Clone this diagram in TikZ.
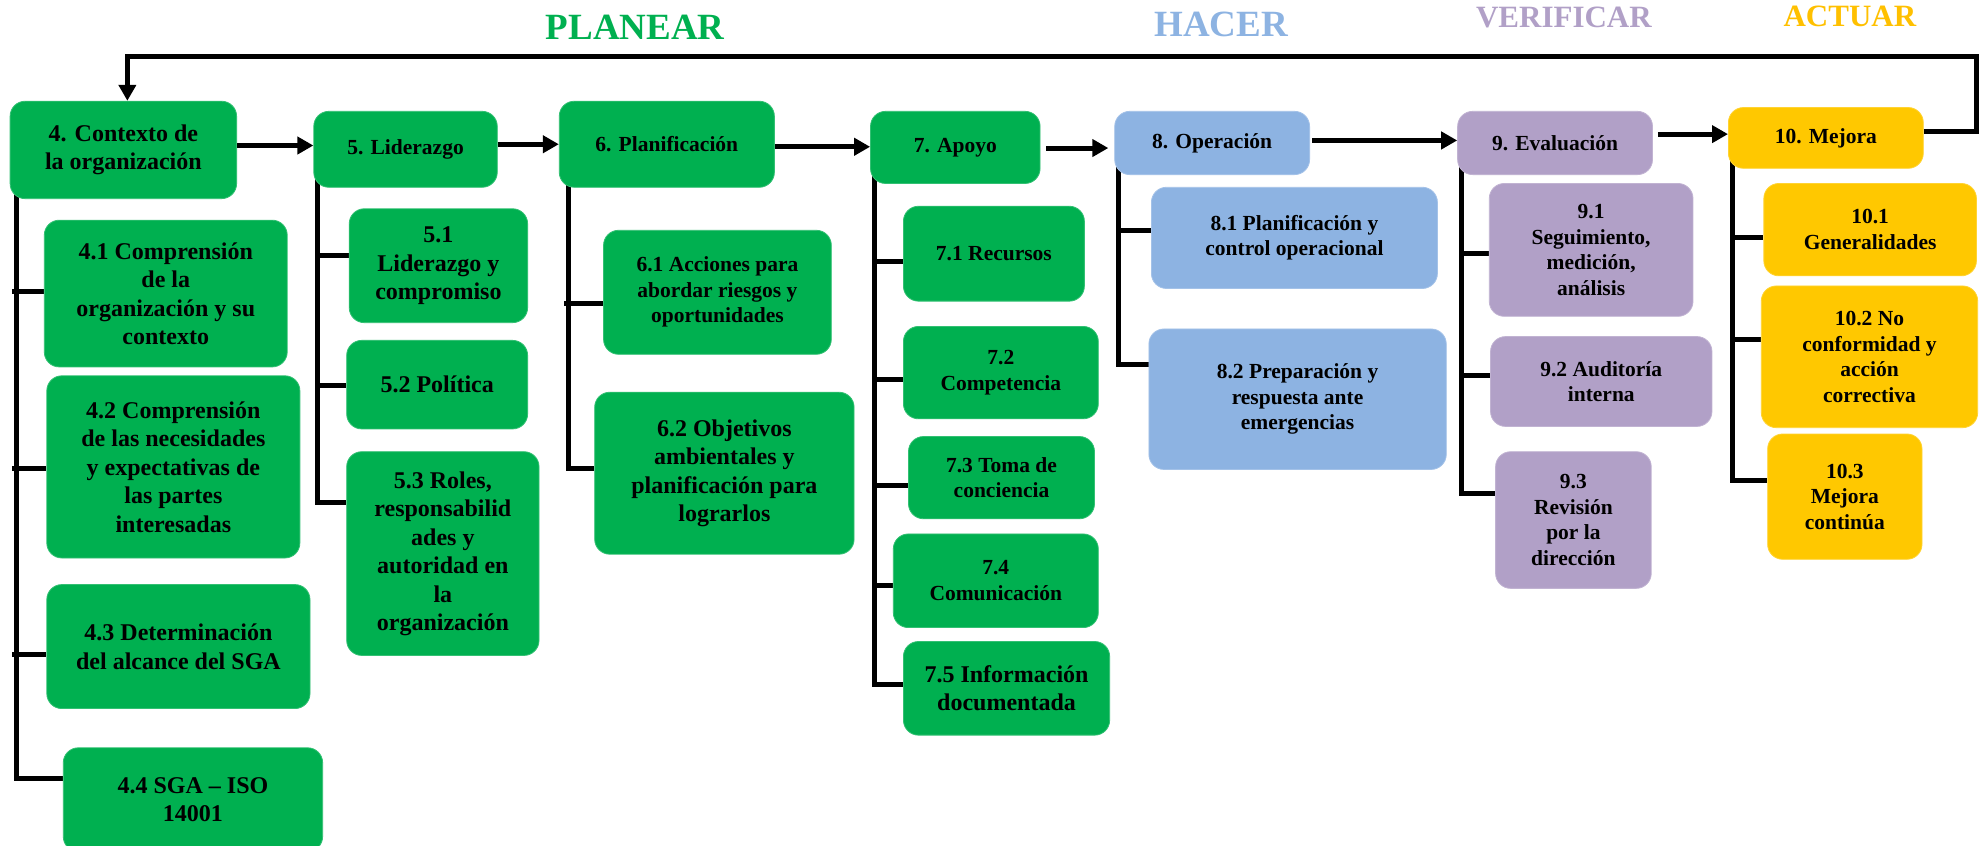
\documentclass[tikz,border=0pt]{standalone}
\usepackage{fontspec}
\setmainfont{Liberation Serif}
\usetikzlibrary{arrows.meta,backgrounds}
\definecolor{pgreen}{HTML}{00B050}
\definecolor{pblue}{HTML}{8DB3E2}
\definecolor{ppurple}{HTML}{B1A0C7}
\definecolor{pgold}{HTML}{FFC800}
\definecolor{tgold}{HTML}{FFC000}

% box placed by its corner coordinates: style, name, x1, y1, x2, y2, text
\newcommand\procbox[7]{%
  \pgfmathsetmacro\bxw{(#5-#3)*1.2653}%
  \pgfmathsetmacro\bxh{(#6-#4)*1.2653}%
  \node[#1, minimum width=\bxw pt, minimum height=\bxh pt] (#2) at ({(#3+#5)/2},{(#4+#6)/2}) {#7};%
}

\begin{document}
\begin{tikzpicture}[x=1.2653pt,y=-1.2653pt,
  box/.style={rounded corners=15pt, align=center, inner sep=2pt, line width=0.8pt,
    font=\bfseries\fontsize{24}{28.5}\selectfont},
  sm/.style={font=\bfseries\fontsize{21.5}{25.5}\selectfont},
  gbox/.style={box, fill=pgreen, draw=pgreen!80!white},
  bbox/.style={box, fill=pblue, draw=pblue!80!white},
  vbox/.style={box, fill=ppurple, draw=ppurple!80!white},
  ybox/.style={box, fill=pgold, draw=pgold!80!white},
  conn/.style={line width=5pt, line cap=butt, line join=miter},
  arr/.style={conn, -{Triangle[length=16pt,width=17pt]}},
  phase/.style={font=\bfseries\fontsize{37}{40}\selectfont},
  phasesm/.style={font=\bfseries\fontsize{31}{34}\selectfont}]
\useasboundingbox (0,0) rectangle (1568,668.6);

% phase headings
\node[phase, text=pgreen]    (hPlan) at (502,21.7) {PLANEAR};
\node[phase, text=pblue]     (hDo)   at (965,19.4) {HACER};
\node[phasesm, text=ppurple] (hChk)  at (1236,14) {VERIFICAR};
\node[phasesm, text=tgold]   (hAct)  at (1462,13) {ACTUAR};

% main clauses
\procbox{gbox}{n4}{8}{80}{187}{157}{4. Contexto de\\la organización}
\procbox{gbox,sm}{n5}{248}{88}{393}{148}{5. Liderazgo}
\procbox{gbox,sm}{n6}{442}{80}{612}{148}{6. Planificación}
\procbox{gbox,sm}{n7}{688}{88}{822}{145}{7. Apoyo}
\procbox{bbox,sm}{n8}{881}{88}{1035}{138}{8. Operación}
\procbox{vbox,sm}{n9}{1152}{88}{1306}{138}{9. Evaluación}
\procbox{ybox,sm}{n10}{1366}{85}{1520}{133}{10. Mejora}

% sub-clauses
\procbox{gbox}{n41}{35}{174}{227}{290}{4.1 Comprensión\\de la\\organización y su\\contexto}
\procbox{gbox}{n42}{37}{297}{237}{441}{4.2 Comprensión\\de las necesidades\\y expectativas de\\las partes\\interesadas}
\procbox{gbox}{n43}{37}{462}{245}{560}{4.3 Determinación\\del alcance del SGA}
\procbox{gbox}{n44}{50}{591}{255}{673}{4.4 SGA – ISO\\14001}

\procbox{gbox}{n51}{276}{165}{417}{255}{5.1\\Liderazgo y\\compromiso}
\procbox{gbox}{n52}{274}{269}{417}{339}{5.2 Política}
\procbox{gbox}{n53}{274}{357}{426}{518}{5.3 Roles,\\responsabilid\\ades y\\autoridad en\\la\\organización}

\procbox{gbox,sm}{n61}{477}{182}{657}{280}{6.1 Acciones para\\abordar riesgos y\\oportunidades}
\procbox{gbox}{n62}{470}{310}{675}{438}{6.2 Objetivos\\ambientales y\\planificación para\\lograrlos}

\procbox{gbox,sm}{n71}{714}{163}{857}{238}{7.1 Recursos}
\procbox{gbox,sm}{n72}{714}{258}{868}{331}{7.2\\Competencia}
\procbox{gbox,sm}{n73}{718}{345}{865}{410}{7.3 Toma de\\conciencia}
\procbox{gbox,sm}{n74}{706}{422}{868}{496}{7.4\\Comunicación}
\procbox{gbox}{n75}{714}{507}{877}{581}{7.5 Información\\documentada}

\procbox{bbox,sm}{n81}{910}{148}{1136}{228}{8.1 Planificación y\\control operacional}
\procbox{bbox,sm}{n82}{908}{260}{1143}{371}{8.2 Preparación y\\respuesta ante\\emergencias}

\procbox{vbox,sm}{n91}{1177}{145}{1338}{250}{9.1\\Seguimiento,\\medición,\\análisis}
\procbox{vbox,sm}{n92}{1178}{266}{1353}{337}{9.2 Auditoría\\interna}
\procbox{vbox,sm}{n93}{1182}{357}{1305}{465}{9.3\\Revisión\\por la\\dirección}

\procbox{ybox,sm}{n101}{1394}{145}{1562}{218}{10.1\\Generalidades}
\procbox{ybox,sm}{n102}{1392}{226}{1563}{338}{10.2 No\\conformidad y\\acción\\correctiva}
\procbox{ybox,sm}{n103}{1397}{343}{1519}{442}{10.3\\Mejora\\continúa}

% flow between the main clauses
\draw[arr] (n4.east |- 0,115) -- (n5.west |- 0,115);
\draw[arr] (n5.east |- 0,114) -- (n6.west |- 0,114);
\draw[arr] (n6.east |- 0,116) -- (n7.west |- 0,116);
\draw[arr, shorten <=6pt, shorten >=6pt] (n7.east |- 0,117) -- (n8.west |- 0,117);
\draw[arr, shorten <=2pt] (n8.east |- 0,111) -- (n9.west |- 0,111);
\draw[arr, shorten <=5pt] (n9.east |- 0,106) -- (n10.west |- 0,106);

% feedback loop back to clause 4
\coordinate (loopR) at (1562,45);
\draw[arr] (n10.east |- 0,104) -| (loopR) -| ([xshift=4pt]n4.north);

% trunks and branches to the sub-clauses
\begin{scope}[on background layer]
  \coordinate (t4) at (13,140);
  \draw[conn] (t4) |- (n44.west |- 0,615);
  \foreach \nm/\yy in {n41/230, n42/370, n43/517}
    \draw[conn] ([xshift=-4pt]t4 |- 0,\yy) -- (\nm.west |- 0,\yy);

  \coordinate (t5) at (251,140);
  \draw[conn] (t5) |- (n53.west |- 0,397);
  \foreach \nm/\yy in {n51/202, n52/305}
    \draw[conn] (t5 |- 0,\yy) -- (\nm.west |- 0,\yy);

  \coordinate (t6) at (449,140);
  \draw[conn] (t6) |- (n62.west |- 0,370);
  \draw[conn] ([xshift=-4pt]t6 |- 0,240) -- (n61.west |- 0,240);

  \coordinate (t7) at (691,135);
  \draw[conn] (t7) |- (n75.west |- 0,541);
  \foreach \nm/\yy in {n71/207, n72/300, n73/384, n74/463}
    \draw[conn] (t7 |- 0,\yy) -- (\nm.west |- 0,\yy);

  \coordinate (t8) at (884,128);
  \draw[conn] (t8) |- (n82.west |- 0,288);
  \draw[conn] (t8 |- 0,182) -- (n81.west |- 0,182);

  \coordinate (t9) at (1155,128);
  \draw[conn] (t9) |- (n93.west |- 0,390);
  \draw[conn] (t9 |- 0,200) -- (n91.west |- 0,200);
  \draw[conn] ([xshift=3pt]t9 |- 0,297) -- (n92.west |- 0,297);

  \coordinate (t10) at (1369,123);
  \draw[conn] (t10) |- (n103.west |- 0,380);
  \foreach \nm/\yy in {n101/188, n102/268}
    \draw[conn] (t10 |- 0,\yy) -- (\nm.west |- 0,\yy);
\end{scope}
\end{tikzpicture}
\end{document}
